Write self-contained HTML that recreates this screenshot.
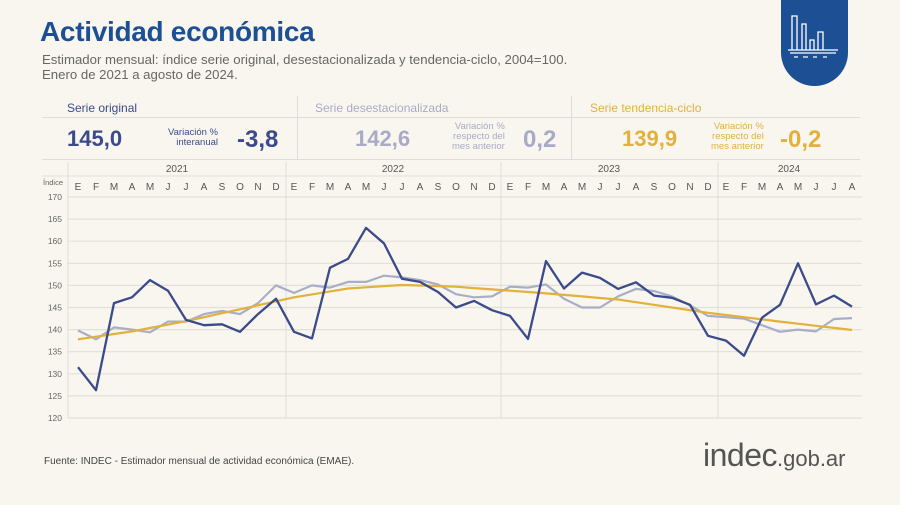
<!DOCTYPE html>
<html><head><meta charset="utf-8"><style>
body{margin:0;width:900px;height:505px;background:#f8f6ee;font-family:"Liberation Sans",sans-serif;position:relative;overflow:hidden}
.a{position:absolute;white-space:nowrap}
</style></head><body>
<div class="a" style="left:40px;top:16px;font-size:28px;font-weight:bold;color:#1c4f93;letter-spacing:-0.3px">Actividad económica</div>
<div class="a" style="left:42px;top:52px;font-size:13.2px;color:#666;line-height:15px">Estimador mensual: índice serie original, desestacionalizada y tendencia-ciclo, 2004=100.<br>Enero de 2021 a agosto de 2024.</div>
<div class="a" style="left:781px;top:0;width:67px;height:86px;background:#1c4f93;border-radius:0 0 34px 34px"></div>
<svg class="a" style="left:781px;top:0" width="67" height="86"><g stroke="#fff" stroke-width="1.3" fill="none"><path d="M11 50V16h5v34M21 50V24h4v26M29 50V40h4v10M37 50V32h5v18"/><path d="M7 50h50M9 53h46" /><path d="M13 57h4M22 57h5M32 57h4M42 57h4"/></g></svg>
<div class="a" style="left:42px;top:117px;width:818px;border-top:1px solid #ddd"></div>
<div class="a" style="left:42px;top:159px;width:818px;border-top:1px solid #ddd"></div>
<div class="a" style="left:297px;top:96px;height:63px;border-left:1px solid #ddd"></div>
<div class="a" style="left:571px;top:96px;height:63px;border-left:1px solid #ddd"></div>
<div class="a" style="left:67px;top:101px;font-size:12px;color:#3b4a8a">Serie original</div>
<div class="a" style="left:315px;top:101px;font-size:12px;color:#a9abc6">Serie desestacionalizada</div>
<div class="a" style="left:590px;top:101px;font-size:12px;color:#e2b13c">Serie tendencia-ciclo</div>
<div class="a" style="left:67px;top:126px;font-size:22px;font-weight:bold;color:#3b4a8a">145,0</div>
<div class="a" style="left:168px;top:128px;font-size:9.5px;color:#3b4a8a;text-align:right;line-height:10px">Variación %<br>interanual</div>
<div class="a" style="left:237px;top:126px;font-size:24px;font-weight:bold;color:#3b4a8a">-3,8</div>
<div class="a" style="left:355px;top:126px;font-size:22px;font-weight:bold;color:#a9abc6">142,6</div>
<div class="a" style="left:452px;top:122px;font-size:9.5px;color:#a9abc6;text-align:right;line-height:10px">Variación %<br>respecto del<br>mes anterior</div>
<div class="a" style="left:523px;top:126px;font-size:24px;font-weight:bold;color:#a9abc6">0,2</div>
<div class="a" style="left:622px;top:126px;font-size:22px;font-weight:bold;color:#e2b13c">139,9</div>
<div class="a" style="left:711px;top:122px;font-size:9.5px;color:#e2b13c;text-align:right;line-height:10px">Variación %<br>respecto del<br>mes anterior</div>
<div class="a" style="left:780px;top:126px;font-size:24px;font-weight:bold;color:#e2b13c">-0,2</div>
<svg class="a" id="ch" style="left:0;top:0" width="900" height="505"></svg>
<div class="a" style="left:44px;top:456px;font-size:10px;color:#444">Fuente: INDEC - Estimador mensual de actividad económica (EMAE).</div>
<div class="a" style="left:703px;top:437px;font-size:32px;color:#555;letter-spacing:-0.5px">indec<span style="font-size:22px;letter-spacing:0">.gob.ar</span></div>
<script>
var o=[131.5,126.3,146,147.3,151.2,148.8,142.2,141,141.2,139.5,143.5,147,139.5,138,154,156,163,159.5,151.5,150.8,148.5,145,146.5,144.4,143.1,137.9,155.5,149.3,152.9,151.7,149.2,150.7,147.7,147.2,145.6,138.6,137.5,134.1,142.7,145.6,155,145.7,147.7,145.2];
var d=[139.8,137.8,140.5,140,139.4,141.8,141.8,143.5,144.2,143.5,146,150,
148.3,150,149.5,150.8,150.8,152.2,151.8,151.2,150.2,148,147.3,147.5,
149.7,149.5,150.2,147,145,145,147.5,149.2,148.7,147.5,145.5,143.1,
142.8,142.5,141,139.5,140,139.6,142.4,142.6];
var k=[[0,137.8],[3,139.6],[6,141.9],[9,144.6],[12,147.3],[15,149.3],[18,150.1],[21,149.7],[26,148.2],[30,146.8],[35,143.8],[39,141.8],[43,139.9]];
var t=[];for(var i=0;i<44;i++){for(var j=0;j<k.length-1;j++){if(i>=k[j][0]&&i<=k[j+1][0]){var f=(i-k[j][0])/(k[j+1][0]-k[j][0]);t.push(k[j][1]+f*(k[j+1][1]-k[j][1]));break;}}}
var X=function(i){return 78+i*18},Y=function(v){return 197+(170-v)*4.42};
var s='';
for(var v=120;v<=170;v+=5){s+='<line x1="68" x2="862" y1="'+Y(v)+'" y2="'+Y(v)+'" stroke="#e2e0d8" stroke-width="1.2"/><text x="62" y="'+(Y(v)+3)+'" font-size="8.5" fill="#666" text-anchor="end">'+v+'</text>';}
[68,286,501,718].forEach(function(x){s+='<line x1="'+x+'" x2="'+x+'" y1="162" y2="418" stroke="#ddd"/>'});
s+='<line x1="42" x2="862" y1="176" y2="176" stroke="#e2e0d8"/>';
var yr=[['2021',177],['2022',393],['2023',609],['2024',789]];yr.forEach(function(a){s+='<text x="'+a[1]+'" y="172" font-size="10" fill="#555" text-anchor="middle">'+a[0]+'</text>'});
var m='EFMAMJJASOND';for(var i=0;i<44;i++)s+='<text x="'+X(i)+'" y="190" font-size="10" fill="#555" text-anchor="middle">'+m[i%12]+'</text>';
s+='<text x="53" y="185" font-size="7.5" fill="#666" text-anchor="middle">Índice</text>';
function p(a,c,w){return '<polyline fill="none" stroke="'+c+'" stroke-width="'+w+'" stroke-linejoin="round" points="'+a.map(function(v,i){return X(i)+','+Y(v).toFixed(1)}).join(' ')+'"/>'}
s+=p(d,'#a9aec8',2.2)+p(t,'#e2b13c',2.2)+p(o,'#3b4a8a',2.3);
document.getElementById('ch').innerHTML=s;
</script>
</body></html>
